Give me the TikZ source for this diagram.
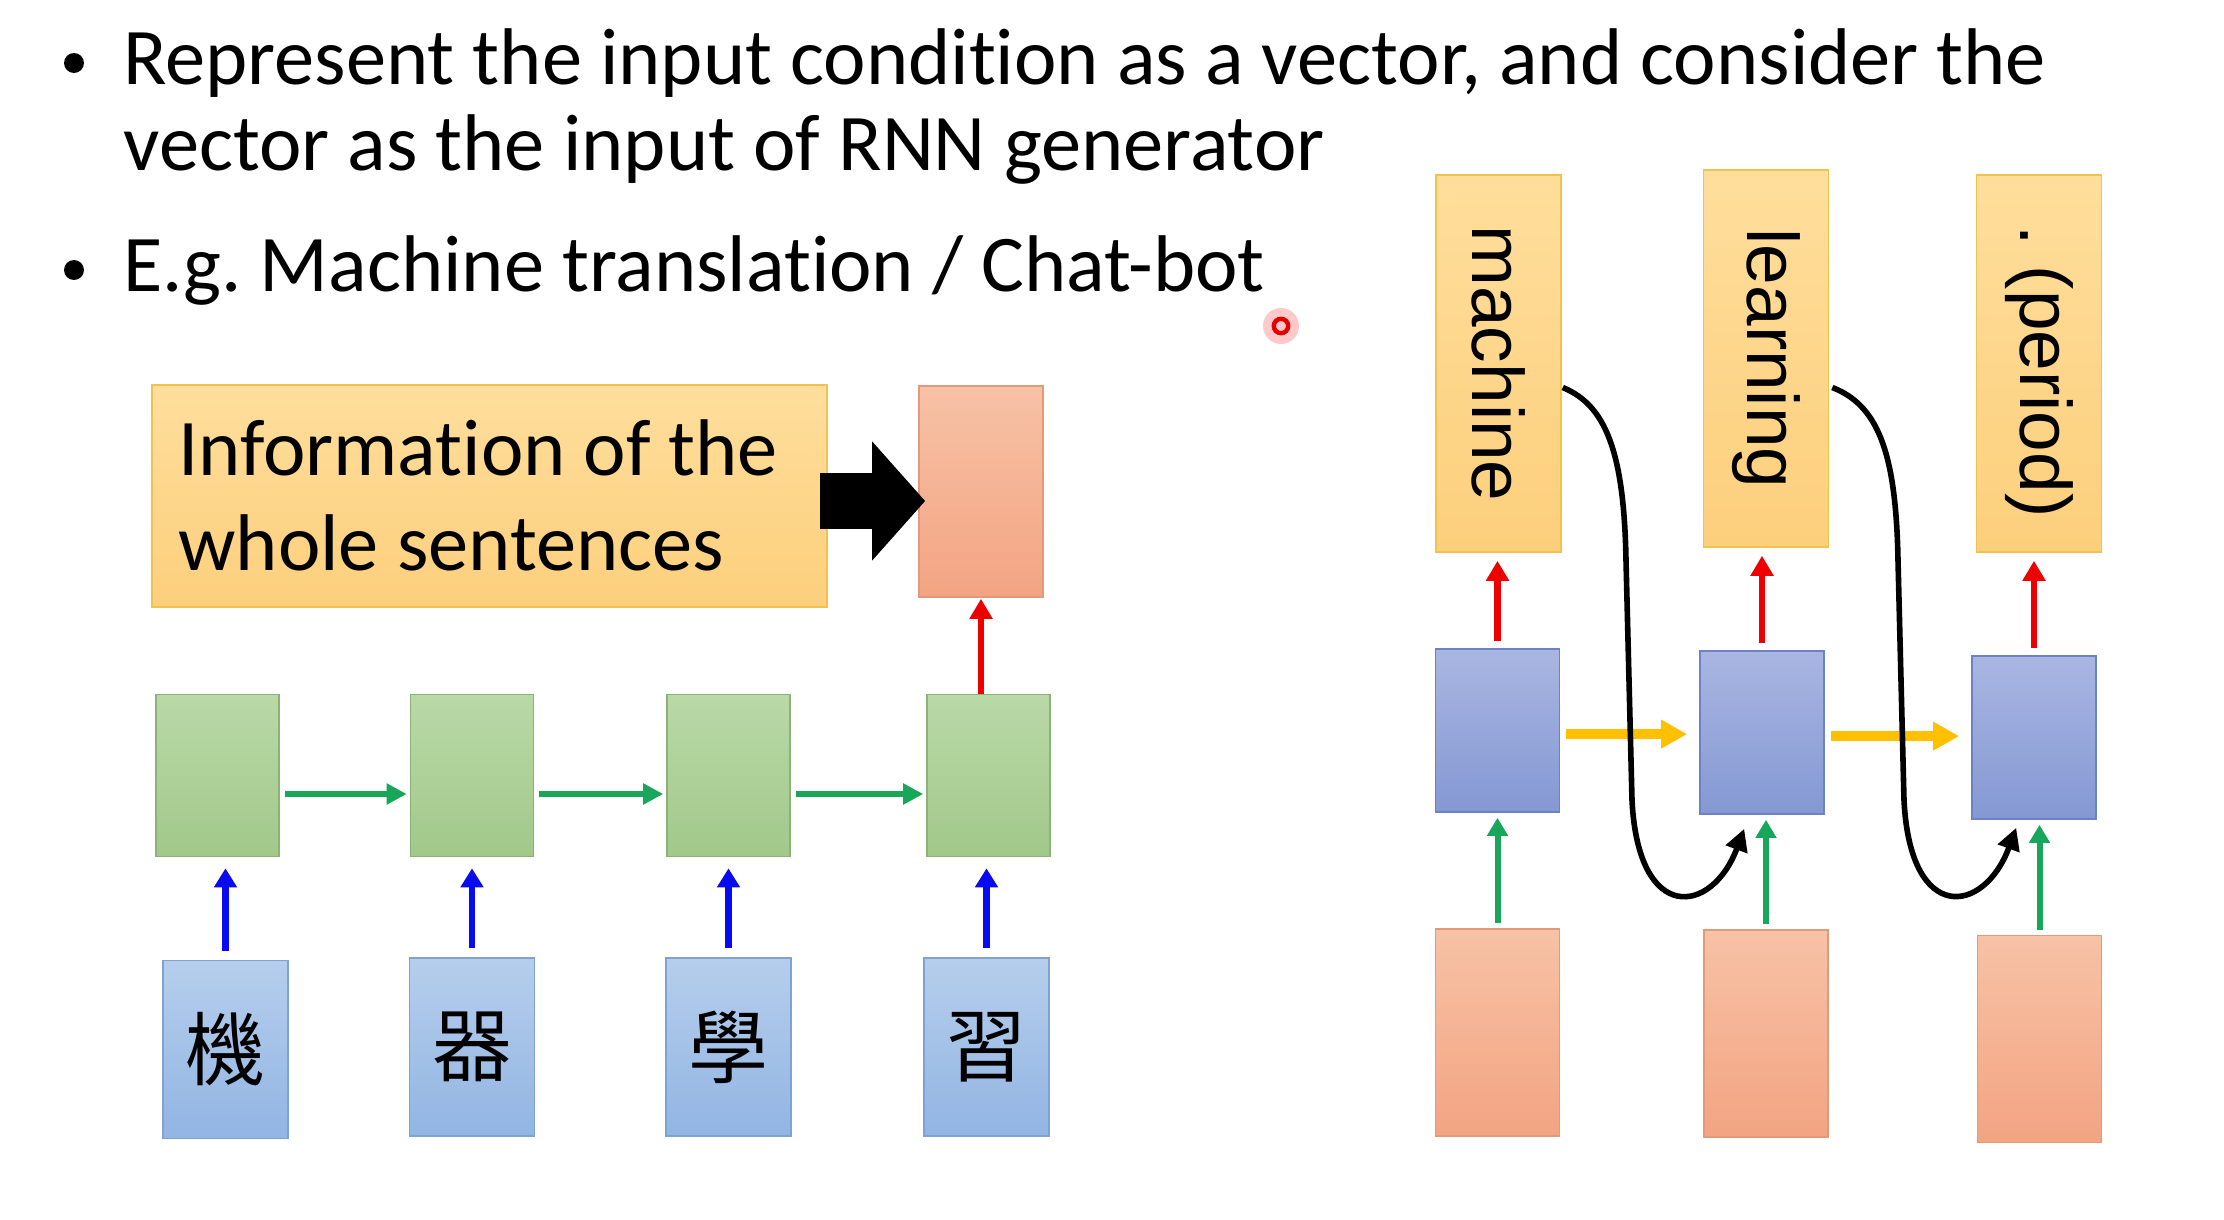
\documentclass[tikz,border=0pt]{standalone}
\usepackage{fontspec}
\setmainfont{Carlito}[Ligatures={NoCommon}]
\newfontfamily\wordfont{Liberation Sans}
\newfontfamily\hanfont{Noto Sans CJK TC}
\usetikzlibrary{arrows.meta}
\frenchspacing

\definecolor{ylwtop}{HTML}{FFDE9C}
\definecolor{ylwbot}{HTML}{FCCF7C}
\definecolor{ylwline}{HTML}{F2C24F}
\definecolor{orgtop}{HTML}{F7C2A6}
\definecolor{orgbot}{HTML}{F3A482}
\definecolor{orgline}{HTML}{E39A7B}
\definecolor{grntop}{HTML}{B9D9A7}
\definecolor{grnbot}{HTML}{A2C88A}
\definecolor{grnline}{HTML}{8CB179}
\definecolor{lbltop}{HTML}{B6CEEC}
\definecolor{lblbot}{HTML}{92B5E3}
\definecolor{lblline}{HTML}{7FA2D2}
\definecolor{rnntop}{HTML}{A9B6E2}
\definecolor{rnnbot}{HTML}{8598D3}
\definecolor{rnnline}{HTML}{6C82C6}
\definecolor{flowgreen}{HTML}{17A65A}
\definecolor{flowblue}{HTML}{0A0AF0}
\definecolor{flowred}{HTML}{EE0000}
\definecolor{flowyellow}{HTML}{FFC000}

\begin{document}
\begin{tikzpicture}[x=0.5pt,y=-0.5pt,
  cell/.style={rectangle, draw, line width=0.8pt, inner sep=0pt},
  infobox/.style={cell, draw=ylwline, top color=ylwtop, bottom color=ylwbot,
    minimum width=337.5pt, minimum height=111pt},
  ctxbox/.style={cell, draw=orgline, top color=orgtop, bottom color=orgbot,
    minimum width=62pt, minimum height=105.5pt},
  enccell/.style={cell, draw=grnline, top color=grntop, bottom color=grnbot,
    minimum width=61.5pt, minimum height=81pt},
  charbox/.style={cell, draw=lblline, top color=lbltop, bottom color=lblbot,
    minimum width=62.5pt, minimum height=89pt, font=\hanfont\fontsize{40}{40}\selectfont},
  wordbox/.style={cell, draw=ylwline, top color=ylwtop, bottom color=ylwbot,
    minimum width=62.5pt, minimum height=188.5pt},
  wordtext/.style={rotate=-90, font=\wordfont\fontsize{36.5}{36.5}\selectfont},
  deccell/.style={cell, draw=rnnline, top color=rnntop, bottom color=rnnbot,
    minimum width=62pt, minimum height=81.5pt},
  condbox/.style={cell, draw=orgline, top color=orgtop, bottom color=orgbot,
    minimum width=62pt, minimum height=103.5pt},
  bullettext/.style={anchor=base west, inner sep=0pt, font=\fontsize{40.2}{48}\selectfont},
  bulletdot/.style={circle, fill=black, inner sep=0pt, minimum size=10pt},
  statearrow/.style={draw=flowgreen, line width=3.3pt, -{Triangle[length=10pt,width=10pt]}},
  inarrow/.style={draw=flowblue, line width=3.2pt, -{Triangle[length=9.5pt,width=11pt]}},
  outarrow/.style={draw=flowred, line width=3.2pt, -{Triangle[length=10pt,width=11pt]}},
  condarrow/.style={draw=flowgreen, line width=3pt, -{Triangle[length=9pt,width=10pt]}},
  hidarrow/.style={draw=flowyellow, line width=5pt, -{Triangle[length=13pt,width=13.5pt]}},
  feedarrow/.style={draw=black, line width=2.8pt, -{Triangle[length=11pt,width=11pt]}},
  blockarrow/.style={draw=black, line width=28pt, -{Triangle[length=26.5pt,width=58pt]}}
]
\useasboundingbox[fill=white] (0,0) rectangle (2224,1220);

% ---- bullet points ----
\node[bulletdot] (d1) at (74,63) {};
\node[bulletdot] (d2) at (74,270) {};
\node[bullettext] (t1) at (123,85) {Represent the input condition as a vector, and consider the};
\node[bullettext] (t2) at (123,170) {vector as the input of RNN generator};
\node[bullettext] (t3) at (123,292) {E.g. Machine translation / Chat-bot};

% pointer mark
\fill[red!60, opacity=0.35] (1281,326) circle (9pt);
\draw[red!90!black, line width=2.2pt] (1281,326) circle (3.6pt);

% ---- encoder ----
\node[infobox] (info) at (489.5,496) {};
\node[anchor=base west, inner sep=0pt, align=left,
      font=\fontsize{40.2}{47.5}\selectfont] (infotxt) at (178,570)
      {Information of the\\whole sentences};
\node[ctxbox] (ctx) at (981,491.5) {};

\node[enccell] (e1) at (217.5,775.5) {};
\node[enccell] (e2) at (472,775.5) {};
\node[enccell] (e3) at (728.5,775.5) {};
\node[enccell] (e4) at (988.5,775.5) {};

\node[charbox] (c1) at (225.5,1049.5) {機};
\node[charbox] (c2) at (472,1047) {器};
\node[charbox] (c3) at (728.5,1047) {學};
\node[charbox] (c4) at (986.5,1047) {習};

\coordinate (bstart) at ([shift={(-8,5)}]info.east);
\draw[blockarrow] (bstart) -- ([shift={(7,0)}]ctx.west |- bstart);

\foreach \a/\b in {e1/e2,e2/e3,e3/e4}
  \draw[statearrow, shorten <=2.5pt, shorten >=1.5pt]
    ([shift={(0,18.5)}]\a.east) -- ([shift={(0,18.5)}]\b.west);

\foreach \i in {1,2,3,4}
  \draw[inarrow, shorten <=4.5pt, shorten >=5.5pt] (c\i.north) -- (c\i.north |- e\i.south);

\draw[outarrow, shorten >=0.5pt] (e4.north -| ctx.south) -- (ctx.south);

% ---- decoder ----
\node[wordbox] (w1) at (1498.5,363.5) {};
\node[wordbox] (w2) at (1766,358.5) {};
\node[wordbox] (w3) at (2039,363.5) {};
\node[wordtext] at (w1) {machine};
\node[wordtext] at (w2) {learning};
\node[wordtext] at ([yshift=-4pt]w3.center) {. (period)};

\node[deccell] (h1) at (1497.5,730.5) {};
\node[deccell] (h2) at (1762,732.5) {};
\node[deccell] (h3) at (2034,737.5) {};

\node[condbox] (v1) at (1497.5,1032.5) {};
\node[condbox] (v2) at (1766,1033.5) {};
\node[condbox] (v3) at (2039.5,1039) {};

\foreach \i in {1,2,3}
  \draw[outarrow, shorten <=3.5pt, shorten >=4pt] (h\i.north) -- (h\i.north |- w\i.south);

\foreach \i in {1,2,3}
  \draw[condarrow, shorten <=2.5pt, shorten >=2.5pt] (v\i.north) -- (v\i.north |- h\i.south);

\draw[hidarrow, shorten <=3pt, shorten >=6pt] ([yshift=-1.8pt]h1.east) -- ([yshift=-1.8pt]h1.east -| h2.west);
\draw[hidarrow, shorten <=3pt, shorten >=6pt] ([yshift=-1.8pt]h2.east) -- ([yshift=-1.8pt]h2.east -| h3.west);

% previous output fed back as next input
\draw[feedarrow] ([shift={(1,24)}]w1.east)
  .. controls (1605,405) and (1624,450) .. (1626,560)
  -- (1632,800)
  .. controls (1638,925) and (1712,915) .. ([shift={(45,14)}]h2.south west);
\draw[feedarrow] ([shift={(3,29)}]w2.east)
  .. controls (1877,405) and (1896,450) .. (1898,560)
  -- (1904,800)
  .. controls (1910,925) and (1984,915) .. ([shift={(45,8)}]h3.south west);

\end{tikzpicture}
\end{document}
